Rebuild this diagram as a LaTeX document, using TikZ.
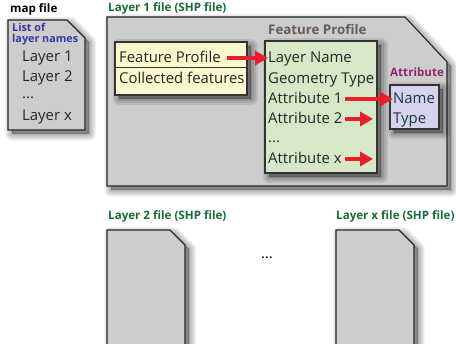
\documentclass[tikz,border=0pt]{standalone}
\usepackage{fontspec}
\setmainfont{Open Sans}
\usetikzlibrary{arrows.meta}
\definecolor{filegray}{RGB}{205,205,205}
\definecolor{titlegreen}{RGB}{24,106,60}
\definecolor{listblue}{RGB}{56,56,165}
\definecolor{attrpurple}{RGB}{150,36,104}
\definecolor{profbrown}{RGB}{105,90,82}
\definecolor{paleyellow}{RGB}{250,248,205}
\definecolor{palegreen}{RGB}{214,232,200}
\definecolor{palelav}{RGB}{214,212,236}
\definecolor{arrowred}{RGB}{232,30,40}
\definecolor{nametext}{RGB}{25,55,65}
\begin{document}
\begin{tikzpicture}[x=1pt,y=-1pt,
  % soft shadow built from stacked translucent halos
  halo/.style={preaction={draw=black,fill=black,line join=round,
      draw opacity=0.09,fill opacity=0.09,line width=#1,
      transform canvas={shift={(4pt,-4pt)}}}},
  shade/.style={halo=13pt,halo=9pt,halo=5pt,halo=1.5pt},
  docbox/.style={draw=black!85,line width=1.1pt,fill=filegray,shade},
  inbox/.style={draw=black!80,line width=1.1pt,shade},
  ftitle/.style={anchor=base west,inner sep=0pt,font=\fontsize{11.6}{13}\selectfont\bfseries},
  item/.style={anchor=base west,inner sep=0pt,font=\fontsize{14.9}{16}\selectfont,text=black!85},
  redarrow/.style={draw=arrowred,line width=4.5pt,-{Triangle[length=13pt,width=14pt]}}]
\useasboundingbox (0,0) rectangle (456,344);

% map file
\node[ftitle] (maptitle) at (10,13) {map file};
\path[docbox] (8,20) -- (67,20) -- (85,38) -- (85,130) -- (8,130) -- cycle;
\node[ftitle,text=listblue,font=\fontsize{10.8}{11}\selectfont\bfseries] (listof) at (12,32) {List of};
\node[ftitle,text=listblue,font=\fontsize{10.8}{11}\selectfont\bfseries] (laynames) at (12,43) {layer names};
\node[item] (l1) at (22,62) {Layer 1};
\node[item] (l2) at (22,82) {Layer 2};
\node[item] (ldots) at (22,99) {...};
\node[item] (lx) at (22,121) {Layer x};

% layer 1 file
\node[ftitle,text=titlegreen] (l1title) at (108,12) {Layer 1 file (SHP file)};
\path[docbox] (107,17) -- (405,17) -- (447,62) -- (447,186) -- (107,186) -- cycle;

% feature profile reference box
\path[inbox,fill=paleyellow] (115,42) rectangle (247,95);
\draw[black!80,line width=1pt] (115,68) -- (247,68);
\node[item] (fpref) at (119,63) {Feature Profile};
\node[item] (coll) at (119,84) {Collected features};

% feature profile box
\node[ftitle,text=profbrown,font=\fontsize{13.3}{14}\selectfont\bfseries] (fptitle) at (268,35) {Feature Profile};
\path[inbox,fill=palegreen] (265,41) rectangle (377,173);
\node[item] (lname) at (268,63) {Layer Name};
\node[item] (geom) at (268,84) {Geometry Type};
\node[item] (att1) at (268,104) {Attribute 1};
\node[item] (att2) at (268,124) {Attribute 2};
\node[item] (adots) at (268,143) {...};
\node[item] (attx) at (268,164) {Attribute x};

% attribute box
\node[ftitle,text=attrpurple] (atitle) at (390,77) {Attribute};
\path[inbox,fill=palelav] (390,85) rectangle (439,129);
\node[item,text=nametext] (aname) at (393,104) {Name};
\node[item,text=nametext] (atype) at (393,124) {Type};

% arrows
\coordinate (a2end) at (373,119);
\coordinate (axend) at (373,159);
\draw[redarrow] (fpref.east |- 0,58) ++(6,0) -- (lname.west |- 0,58);
\draw[redarrow] (att1.east |- 0,99) ++(3,0) -- (aname.west |- 0,99);
\draw[redarrow] (att2.east |- 0,119) ++(3,0) -- (a2end);
\draw[redarrow] (attx.east |- 0,159) ++(3,0) -- (axend);

% other layer files
\node[ftitle,text=titlegreen] (l2title) at (108,220) {Layer 2 file (SHP file)};
\path[docbox] (107,230) -- (170,230) -- (185,245) -- (185,350) -- (107,350) -- cycle;
\node[font=\fontsize{14.9}{16}\selectfont] (mdots) at (267,258) {...};
\node[ftitle,text=titlegreen] (lxtitle) at (336,220) {Layer x file (SHP file)};
\path[docbox] (336,230) -- (399,230) -- (414,245) -- (414,350) -- (336,350) -- cycle;
\end{tikzpicture}
\end{document}
